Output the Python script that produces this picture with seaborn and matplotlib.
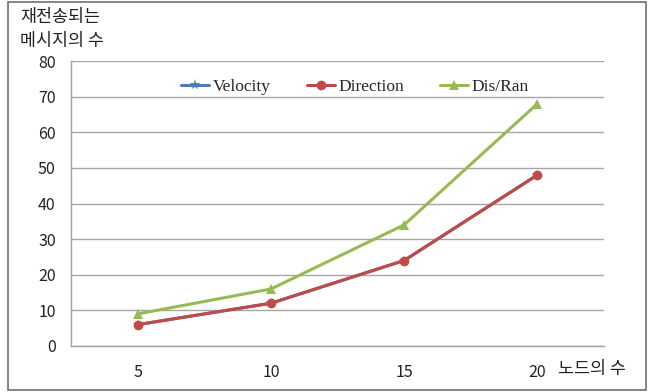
import matplotlib
matplotlib.use("Agg")
import matplotlib.pyplot as plt
import seaborn as sns
import pandas as pd
from matplotlib.patches import Rectangle
from matplotlib.lines import Line2D

nodes = ["5", "10", "15", "20"]
velocity = [6, 12, 24, 48]
direction = [6, 12, 24, 48]
dis_ran = [9, 16, 34, 68]

series_names = ["Velocity", "Direction", "Dis/Ran"]
series_values = [velocity, direction, dis_ran]
colors = {"Velocity": "#4A7EBB", "Direction": "#BE4B48", "Dis/Ran": "#98B954"}
markers = {"Velocity": "*", "Direction": "o", "Dis/Ran": "^"}

rows = []
for name, vals in zip(series_names, series_values):
    for i, v in enumerate(vals):
        rows.append({"pos": i, "node": nodes[i], "value": v, "series": name})
df = pd.DataFrame(rows)

sns.set_theme(style="white")
plt.rcParams["font.family"] = ["Noto Sans CJK KR", "DejaVu Sans"]

fig = plt.figure(figsize=(6.54, 3.92), dpi=100)
ax = fig.add_axes([71 / 654, 1 - 346 / 392, (604 - 71) / 654, (346 - 61) / 392])

# outer frame of the chart area
fig.patches.append(Rectangle((8 / 654, 2 / 392), (646 - 8) / 654, (390 - 2) / 392,
                             transform=fig.transFigure, fill=False,
                             edgecolor="#707070", linewidth=1.2, zorder=0))

sns.lineplot(data=df, x="pos", y="value", hue="series", style="series",
             palette=colors, markers=markers, dashes=False,
             hue_order=series_names, style_order=series_names,
             linewidth=2.2, markersize=7, markeredgewidth=0,
             ax=ax, legend=False)

ax.set_xlim(-0.5, 3.5)
ax.set_ylim(0, 80)
ax.set_yticks(range(0, 81, 10))
ax.yaxis.grid(True, color="#A6A6A6", linewidth=1.0)
ax.set_axisbelow(True)

ax.set_xticks(range(len(nodes)))
ax.set_xticklabels(nodes)
ax.set_xticks([i - 0.5 for i in range(len(nodes) + 1)], minor=True)
ax.tick_params(axis="x", which="major", length=0, pad=13, labelsize=11.5)
ax.tick_params(axis="x", which="minor", length=5, width=1, color="#A0A0A0", direction="out")
ax.tick_params(axis="y", length=5, width=1, color="#A0A0A0", direction="out",
               labelsize=11.5, pad=6)
for t in ax.get_yticklabels() + ax.get_xticklabels():
    t.set_color("#222222")

for side in ["top", "right"]:
    ax.spines[side].set_visible(False)
for side in ["left", "bottom"]:
    ax.spines[side].set_color("#A0A0A0")
    ax.spines[side].set_linewidth(1.0)

ax.set_xlabel("")
ax.set_ylabel("")

fig.text(20 / 654, 1 - 17 / 392, "재전송되는", fontsize=12.5,
         va="center", ha="left", color="#222222")
fig.text(20 / 654, 1 - 41 / 392, "메시지의 수", fontsize=12.5,
         va="center", ha="left", color="#222222")
fig.text(558 / 654, 1 - 369 / 392, "노드의 수", fontsize=12.5,
         va="center", ha="left", color="#222222")

# legend
handles = [Line2D([0], [0], color=colors[n], marker=markers[n], linewidth=2.2,
                  markersize=7 if n != "Velocity" else 8, markeredgewidth=0)
           for n in series_names]
leg = ax.legend(handles, series_names, loc="center", bbox_to_anchor=(0.533, 0.909),
                ncol=3, frameon=False, handlelength=1.6, handletextpad=0.2,
                columnspacing=2.1, prop={"family": "Liberation Serif", "size": 12.5})

fig.savefig("out.png", dpi=100, facecolor="white")
